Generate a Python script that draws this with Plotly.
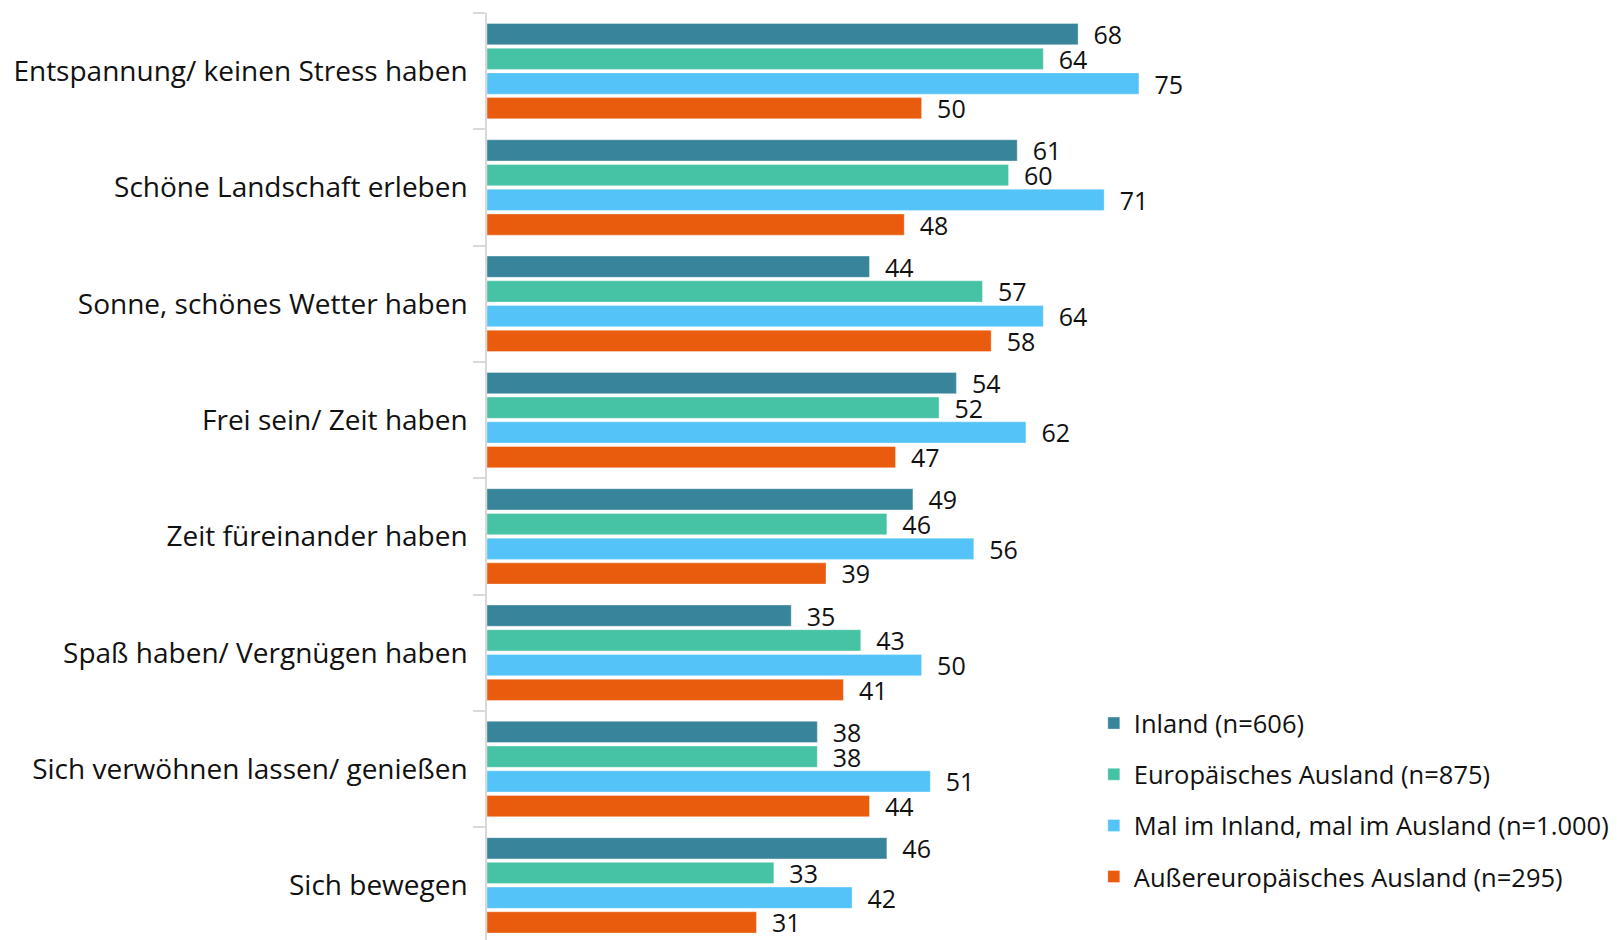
import plotly.graph_objects as go

categories = [
    "Entspannung/ keinen Stress haben",
    "Schöne Landschaft erleben",
    "Sonne, schönes Wetter haben",
    "Frei sein/ Zeit haben",
    "Zeit füreinander haben",
    "Spaß haben/ Vergnügen haben",
    "Sich verwöhnen lassen/ genießen",
    "Sich bewegen",
]

series_names = [
    "Inland (n=606)",
    "Europäisches Ausland (n=875)",
    "Mal im Inland, mal im Ausland (n=1.000)",
    "Außereuropäisches Ausland (n=295)",
]

inland = [68, 61, 44, 54, 49, 35, 38, 46]
europa = [64, 60, 57, 52, 46, 43, 38, 33]
mal = [75, 71, 64, 62, 56, 50, 51, 42]
aussereuropa = [50, 48, 58, 47, 39, 41, 44, 31]

colors = ["#38849A", "#46C2A4", "#53C3F8", "#E95B0D"]

FONT = "Open Sans"
FS_TICK = 28
FS_LEG = 25.5
FS_VAL = 25

fig = go.Figure()
for name, vals, col in zip(series_names, [inland, europa, mal, aussereuropa], colors):
    fig.add_trace(go.Bar(
        y=categories, x=vals, name=name, orientation="h",
        marker=dict(color=col, line=dict(color="rgba(255,255,255,0.35)", width=1)),
        texttemplate="\u2002%{x}", textposition="outside",
        textfont=dict(family=FONT, size=FS_VAL, color="#111111"),
        constraintext="none", cliponaxis=False,
        legendgroup=name,
    ))

# page body has an 8px default margin: compensate so the plot lands where the reference has it
fig.update_layout(
    width=1611, height=932,
    margin=dict(l=479, r=2, t=5, b=0, autoexpand=False),
    paper_bgcolor="white", plot_bgcolor="white",
    barmode="group", bargap=0.15, bargroupgap=0.14,
    font=dict(family=FONT, size=FS_LEG, color="#111111"),
    showlegend=True,
    legend=dict(
        x=0.537, xanchor="left", y=0.151, yanchor="middle",
        font=dict(family=FONT, size=FS_LEG, color="#111111"),
        tracegroupgap=15, bgcolor="rgba(0,0,0,0)",
    ),
    xaxis=dict(range=[0, 130], showticklabels=False, showgrid=False,
               zeroline=False, showline=False, ticks="", automargin=False),
    yaxis=dict(range=[7.47, -0.5], showgrid=False, zeroline=False,
               showline=True, linecolor="#D9D9D9", linewidth=1.5,
               ticks="outside", tickson="boundaries", ticklen=12,
               tickcolor="#D9D9D9", tickwidth=1.5, automargin=False,
               ticklabelstandoff=12,
               tickfont=dict(family=FONT, size=FS_TICK, color="#111111")),
)

fig.write_html("out.html")
